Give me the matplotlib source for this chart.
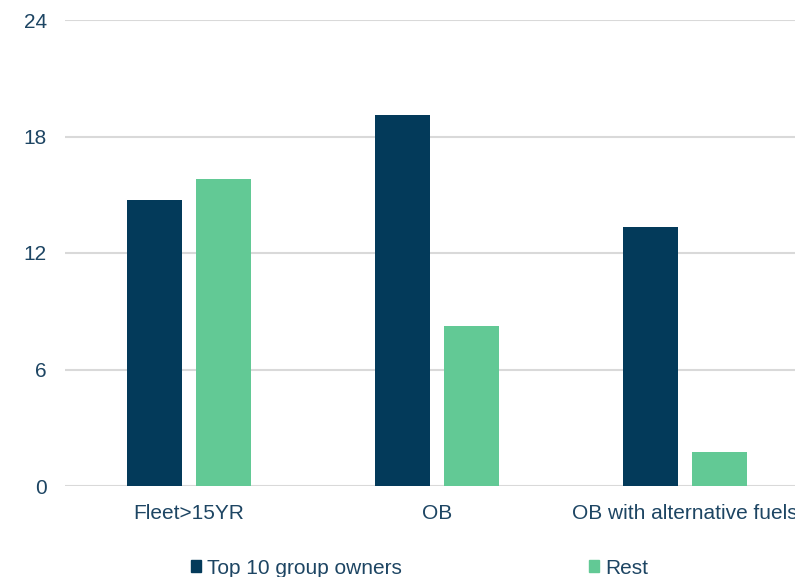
import matplotlib.pyplot as plt
import numpy as np
from matplotlib.patches import Patch

plt.rcParams["font.family"] = ["Liberation Sans", "DejaVu Sans"]

# Data
categories = ["Fleet>15YR", "OB", "OB with alternative fuels"]
top10 = [14.75, 19.1, 13.35]
rest = [15.8, 8.25, 1.75]
series_names = ["Top 10 group owners", "Rest"]
yticks = [0, 6, 12, 18, 24]

DARK = "#033a5a"
GREEN = "#62c995"
TEXT = "#1d4563"
GRID = "#d9d9d9"

fig = plt.figure(figsize=(7.95, 5.77), dpi=100)
ax = fig.add_axes([65 / 795, 91 / 577, 744 / 795, 466 / 577])

x = np.arange(len(categories))
w = 0.222
off = 0.141
ax.bar(x - off, top10, w, color=DARK, zorder=3)
ax.bar(x + off, rest, w, color=GREEN, zorder=3)

ax.set_xlim(-0.5, len(categories) - 0.5)
ax.set_ylim(0, 24)
ax.set_yticks(yticks)
ax.set_xticks(x)
ax.set_xticklabels(categories)
ax.tick_params(length=0, labelsize=15, colors=TEXT, pad=13)
ax.tick_params(axis="y", pad=13)
ax.grid(axis="y", color=GRID, linewidth=1.5, zorder=0)
for s in ax.spines.values():
    s.set_visible(False)

# legend at the bottom, clipped text on the right is as in the reference
handles = [Patch(color=DARK), Patch(color=GREEN)]
leg = fig.legend(handles, series_names, loc="center left",
                 bbox_to_anchor=(181 / 795, 9 / 577), ncol=2, frameon=False,
                 fontsize=15, handlelength=0.45, handleheight=0.45,
                 handletextpad=0.3, columnspacing=9.0, borderpad=0)
for t in leg.get_texts():
    t.set_color(TEXT)

fig.savefig("out.png", dpi=100)
